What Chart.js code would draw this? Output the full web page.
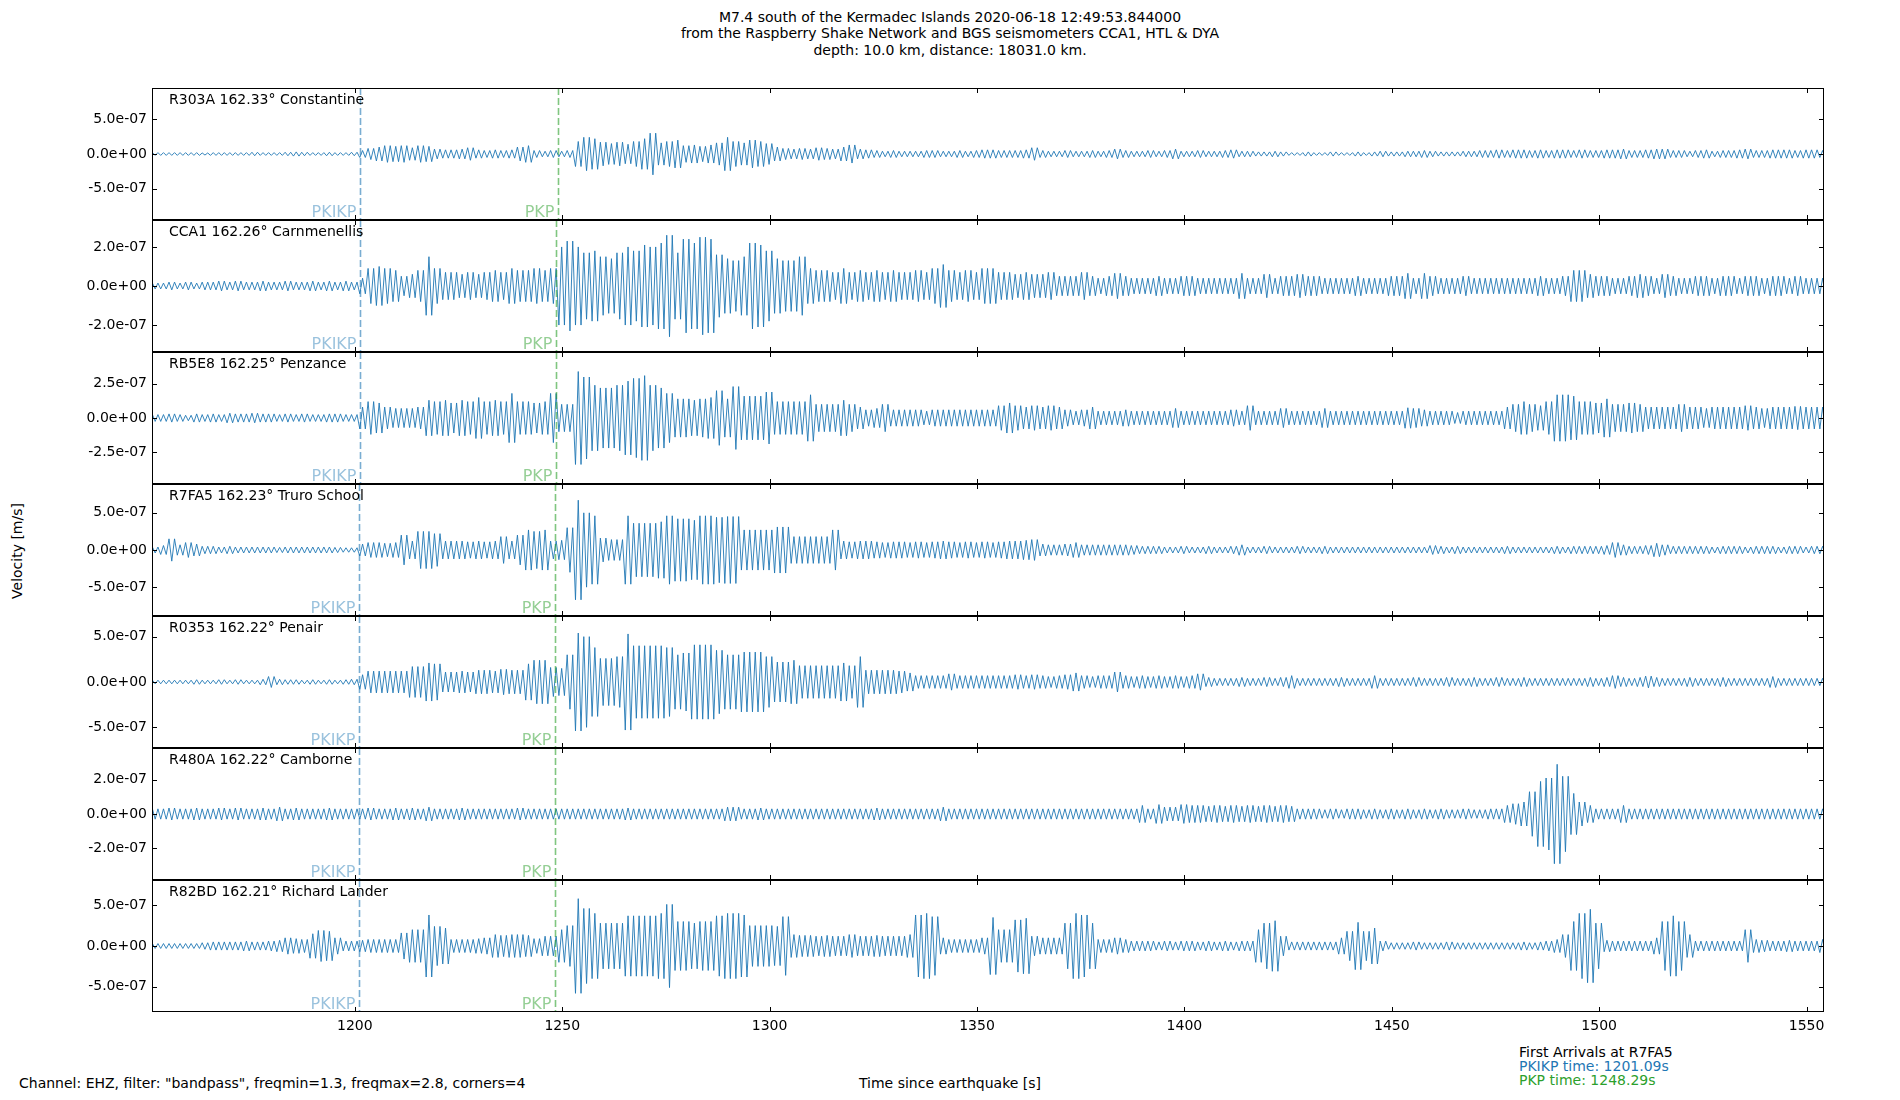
<!DOCTYPE html>
<html>
<head>
<meta charset="utf-8">
<title>M7.4 south of the Kermadec Islands - PKIKP / PKP arrivals</title>
<script src="https://cdn.jsdelivr.net/npm/chart.js@4.4.1/dist/chart.umd.min.js"></script>
<style>
  body { margin: 0; background: #fff; }
  #fig { position: relative; width: 1900px; height: 1100px; overflow: hidden;
         font-family: "DejaVu Sans", sans-serif; color: #000; background: #fff; }
  .txt { position: absolute; white-space: nowrap; font-size: 14px; line-height: 16px; }
  #fig canvas { position: absolute; left: 0; }
</style>
</head>
<body>
<div id="fig">
  <div class="txt" style="left:0; width:1900px; top:9px; text-align:center; line-height:16.4px;">
    M7.4 south of the Kermadec Islands 2020-06-18 12:49:53.844000<br>
    from the Raspberry Shake Network and BGS seismometers CCA1, HTL &amp; DYA<br>
    depth: 10.0 km, distance: 18031.0 km.
  </div>
  <div class="txt" style="left:17px; top:551px; transform:translate(-50%,-50%) rotate(-90deg);">Velocity [m/s]</div>
  <div class="txt" style="left:19px; top:1075px;">Channel: EHZ, filter: "bandpass", freqmin=1.3, freqmax=2.8, corners=4</div>
  <div class="txt" style="left:0; width:1900px; top:1075px; text-align:center;">Time since earthquake [s]</div>
  <div class="txt" style="left:1519px; top:1045px; line-height:14px;">
    First Arrivals at R7FA5<br>
    <span style="color:#1f77b4">PKIKP time: 1201.09s</span><br>
    <span style="color:#2ca02c">PKP time: 1248.29s</span>
  </div>
</div>
<script>
// Peak trace amplitude in each 2 s window, in units of 1e-8 m/s,
// windows centred on 1152, 1154, ... 1554 s (one row = 20 s).
const r303a = [
  2,2,2,2,2,2,1.5,2,2,2,            // 1152
  2,2,2.5,2,2,2,2.5,3,2.5,2,        // 1172
  2,2.5,2,2,2.5,5,8,10,12,11,       // 1192
  12,9,12,11,7,6,6,7,9,6,           // 1212
  5,6,5,6,10,12,5,4,5,4,            // 1232
  5,18,24,22,17,15,17,14,18,22,     // 1252
  30,16,18,20,12,13,11,13,16,24,    // 1272
  18,16,20,18,15,10,8,7,8,7,        // 1292
  9,8,7,10,13,7,6,5,4,5,            // 1312
  4,4,4,5,5,4,4,5,4,5,              // 1332
  6,6,5,5,5,6,9,5,4,4,              // 1352
  5,4,4,5,4,5,7,5,4,4,              // 1372
  5,4,5,7,4,4,5,4,4,5,              // 1392
  6,4,4,3,3,4,3,2,2,3,              // 1412
  2,2,3,2,2,3,2,3,4,3,              // 1432
  3,4,4,5,4,3,3,3,4,4,              // 1452
  5,5,6,5,6,6,5,6,5,6,              // 1472
  6,5,6,5,5,6,6,7,5,5,              // 1492
  6,7,7,5,5,4,5,6,4,5,              // 1512
  5,6,7,5,5,6,6,6,5,6,              // 1532
  6,5                               // 1552
];
const cca1 = [
  1.5,1.5,2,1.5,2,1.5,2,2,2.5,2,
  2.5,2,2,2.5,2,2,2.5,2,2,2.5,
  2,2.5,2,2.5,2,4,9,10,9,8,
  5,6,8,15,9,7,7,6,7,6,
  7,8,7,9,8,8,9,8,9,20,
  23,20,17,18,15,14,17,20,18,21,
  20,22,26,17,24,22,25,24,16,14,
  13,15,22,21,18,14,13,13,15,9,
  8,8,7,9,7,8,7,8,7,8,
  7,7,8,7,9,11,8,7,8,7,
  9,9,7,7,6,7,6,6,7,5,
  5,5,7,5,4,5,6.5,5,4,4,
  4,5,4,4,5,5,4,4,4,4,
  4,6.5,4,4,6,4,5,5,6,5,
  5,4,4,4,4,5,4,4,4,5,
  5,6.5,4,6.5,5,4,4,4,5,4,
  4,4,4,4,4,4,4,5,4,4,
  5,8,8,6,5,5,4,4,5,6,
  5,4,6,5,4,4,5,5,4,5,
  5,4,5,5,4,5,5,4,5,4,
  4,4
];
const rb5e8 = [
  2.5,2.5,3,2.5,2,3,2.5,3,2.5,3.5,
  3,3,3.5,3,3,2.5,3,2.5,3,2.5,
  2.5,3,3,2.5,2.5,8,12,11,8,7,
  7,7,8,13,12,13,11,13,12,15,
  12,13,12,18,12,12,11,12,18,10,
  10,34,30,24,22,22,24,27,29,31,
  24,22,18,14,14,13,14,15,20,14,
  23,16,16,16,19,12,12,12,12,17,
  10,10,10,13,10,8,6,7,10,6,
  6,6,6,5,6,6,6,6,6,6,
  6,6,9,11,9,8,9,8,9,8,
  6,5,6,8,5,5,5,6,5,5,
  5,5,5,7,5,5,5,5,5,5,
  6,5,9,5,5,5,7,5,5,5,
  5,7,5,5,5,5,5,5,5,5,
  5,7.5,7,6,5,5,5,4,5,5,
  5,5,5,8,10,12,10,9,12,17,
  17,16,12,12,11,14,10,10,11,10,
  8,8,8,8,10,8,8,7,8,8,
  8,8,9,8,7,8,8,8,8.5,8,
  8,8
];
const r7fa5 = [
  4,6,15,7,10,8,5,5,4,5,
  4,4,4,4,4,3.5,4,4,4,4,
  4,4,3.5,3,3,8,10,10,9,10,
  20,12,25,25,22,12,12,12,11,12,
  11,12,18,12,20,27,25,27,12,13,
  30,67,50,46,16,14,14,46,36,36,
  36,38,46,42,42,40,46,46,44,45,
  45,27,27,27,27,31,31,18,18,18,
  18,18,27,12,11,12,12,11,10,11,
  11,10,11,10,11,12,11,10,11,10,
  11,10,11,12,12,13,14,8,7,7,
  8,10,7,7,7,7,7,7,6,5,
  5,5,4,4,5,4,4,5,4,4,
  5,7,4,4,5,4,4,4,5,4,
  4,5,4,4,4,4,4,4,4,4,
  4,4,4,4,6,5,4,5,4,4,
  4,4,4,5,4,4,4,4,4,5,
  4,5,5,5,5,6,10,7,5,5,
  6,9,7,5,5,5,5,5,4,5,
  5,5,4,5,5,5,4,5,5,4,
  5,5
];
const r0353 = [
  2,2,2,2,2,2.5,2,2,2.5,2,
  2.5,2,2,3,6,3,2.5,2.5,2,2.5,
  2,2.5,2,2.5,3,8,12,12,12,12,
  12,17,17,21,20,11,11,12,11,13,
  13,12,14,13,13,20,24,24,16,15,
  30,54,50,38,26,26,28,53,40,40,
  40,40,38,30,32,41,41,41,35,30,
  30,33,33,33,28,22,22,24,18,18,
  18,18,18,21,18,28,13,13,13,13,
  12,10,7,7,7,7,9,7,7,7,
  7,7,7,7,8,7,8,7,6,7,
  8,10,7,6,7,7,11,7,6,7,
  6,7,6,7,6,7,9,5,4,4,
  4,5,4,4,5,4,5,7,4,4,
  4,4,4,5,4,4,4,7,4,4,
  4,4,5,4,4,4,5,4,4,5,
  4,4,5,4,4,5,4,4,4,4,
  4,4,4,5,4,5,7,5,4,5,
  6.5,5,4,4,4,5,4,4,4,5,
  4,4,4,4,4,6,4,4,4,4,
  4,4
];
const r480a = [
  3,3,3.5,3,3,3.5,3,3,3.5,3,
  3.5,3,3,3.5,3,4,3,3.5,3,3,
  3,3.5,3,3,3,3,3.5,3,3,3.5,
  3,3.5,3,4,3,3,3,3.5,3,3,
  3,3,3,3,3.5,3,3,3,3,3,
  3,3,3,3,3,3,3,3.5,3,3,
  3,3,3,3,3,3,3,3,3,4,
  4,3,3,3.5,3,3,3,3,3,3,
  3,3,3,3,3,3,3,3.5,3,3,
  3,3,3,3,3,4,3,3,3,3,
  3,3,3,3,3,3,3,3,3,3,
  3,3,3,3,3,3,3,3,3,5,
  3,5.5,4,4,5.5,5,5,4.5,5,4.5,
  5,4.5,5,4.5,5,4.5,5,4.5,3,3,
  3,2.5,3,2.5,3,3,2.5,3,2.5,3,
  2.5,3,2.5,3,2.5,3,2.5,2.5,3,2.5,
  2.5,3,3,5,6,7,13,19,21,29,
  22,12,7,5,3,3,3,5,3,3,
  3,3,3,3,3,3,3,3,3,3,
  3,3,3,3,3,3,3,3,3,3,
  3,3
];
const r82bd = [
  3,3,3,3,3,3,4,5,5,5,
  5,6,5,5,6,7,10,9,8,15,
  19,18,10,6,6,7,8,8,8,8,
  16,20,20,38,24,22,8,8,8,9,
  10,14,13,14,14,13,9,12,12,20,
  25,58,46,40,28,28,28,37,37,37,
  37,40,51,30,30,28,30,30,37,40,
  40,38,25,25,25,24,36,14,13,13,
  12,13,12,12,14,12,12,13,12,12,
  12,14,38,40,36,10,8,8,8,8,
  10,35,20,20,32,34,12,10,10,10,
  28,40,38,28,8,8,10,8,6,6,
  6,5,6,5,6,6,5,6,5,6,
  5,6,6,20,28,31,12,5,5,5,
  5,5,5,10,18,29,18,22,6,4,
  4,4,5,4,4,4,5,4,4,4,
  4,4,4,4,4,5,4,5,6,8,
  14,30,40,45,28,7,6,6,6,6,
  6,10,30,37,30,14,6,6,6,6,
  6,6,20,8,7,6,6,7,6,6,
  6,8
];

const stationCodes = ['R303A', 'CCA1', 'RB5E8', 'R7FA5', 'R0353', 'R480A', 'R82BD'];
const stationDist  = [162.33, 162.26, 162.25, 162.23, 162.22, 162.22, 162.21];
const stationNames = ['Constantine', 'Carnmenellis', 'Penzance', 'Truro School', 'Penair', 'Camborne', 'Richard Lander'];
const traces = [r303a, cca1, rb5e8, r7fa5, r0353, r480a, r82bd];
const pkikpTimes = [1201.3, 1201.15, 1201.13, 1201.09, 1201.07, 1201.07, 1201.05];
const pkpTimes   = [1248.9, 1248.5, 1248.45, 1248.29, 1248.25, 1248.25, 1248.2];
const yLimits = [95, 33.8, 48.3, 88.8, 72.8, 38.5, 80.9];   // symmetric, 1e-8 m/s
const yTickSets = [[-50, 0, 50], [-20, 0, 20], [-25, 0, 25], [-50, 0, 50], [-50, 0, 50], [-20, 0, 20], [-50, 0, 50]];
const xTicks = [1200, 1250, 1300, 1350, 1400, 1450, 1500, 1550];

const binStart = 1151.2;
const binStep = 2;
const swingsPerBin = 3;   // strokes drawn for each window
const xMin = 1151.1, xMax = 1554.2;

const panelTop = 88, panelHeight = 132;
const traceColor = '#1f77b4';
const font = { family: "'DejaVu Sans', sans-serif", size: 14 };

Chart.defaults.font.family = font.family;

// min/max rendering of each window: strokes swinging between +peak and -peak
function tracePoints(peaks) {
    const pts = [];
    let n = 0;
    peaks.forEach((a, i) => {
        const t = binStart + i * binStep;
        for (let k = 0; k < swingsPerBin; k++, n++) {
            pts.push({ x: t + k * binStep / swingsPerBin, y: n % 2 ? -a : a });
        }
    });
    return pts;
}

function sciLabel(v) {
    return (v * 1e-8).toExponential(1).replace(/e([+-])(\d)$/, 'e$10$2');
}

const panelDecor = {
    id: 'panelDecor',
    afterDatasetsDraw(chart, args, opts) {
        const { ctx, chartArea: a, scales: { x, y } } = chart;
        ctx.save();

        // arrival markers
        opts.arrivals.forEach(ph => {
            const px = Math.round(x.getPixelForValue(ph.time)) + 0.5;
            ctx.strokeStyle = ph.line;
            ctx.lineWidth = 1.6;
            ctx.setLineDash([7, 3]);
            ctx.beginPath();
            ctx.moveTo(px, a.top);
            ctx.lineTo(px, a.bottom);
            ctx.stroke();
            ctx.setLineDash([]);
            ctx.fillStyle = ph.text;
            ctx.font = "16px 'DejaVu Sans'";
            ctx.textAlign = 'right';
            ctx.textBaseline = 'alphabetic';
            ctx.fillText(ph.name, px - 4, a.bottom - 3);
        });

        // station label
        ctx.fillStyle = '#000';
        ctx.font = "14px 'DejaVu Sans'";
        ctx.textAlign = 'left';
        ctx.fillText(opts.label, a.left + 17, a.top + 16);

        // frame
        ctx.strokeStyle = '#000';
        ctx.lineWidth = 1;
        ctx.strokeRect(a.left + 0.5, a.top + 0.5, a.width - 1, a.height - 1);

        // inward ticks on all four sides
        ctx.beginPath();
        xTicks.forEach(v => {
            const px = Math.round(x.getPixelForValue(v)) + 0.5;
            ctx.moveTo(px, a.top); ctx.lineTo(px, a.top + 5);
            ctx.moveTo(px, a.bottom); ctx.lineTo(px, a.bottom - 5);
        });
        opts.yTicks.forEach(v => {
            const py = Math.round(y.getPixelForValue(v)) + 0.5;
            ctx.moveTo(a.left, py); ctx.lineTo(a.left + 5, py);
            ctx.moveTo(a.right, py); ctx.lineTo(a.right - 5, py);
        });
        ctx.stroke();
        ctx.restore();
    }
};

const fig = document.getElementById('fig');

traces.forEach((peaks, i) => {
    const isLast = i === traces.length - 1;
    const canvas = document.createElement('canvas');
    canvas.width = 1900;
    canvas.height = panelHeight + (isLast ? 40 : 0);
    canvas.style.top = (panelTop + i * panelHeight) + 'px';
    fig.appendChild(canvas);

    new Chart(canvas.getContext('2d'), {
        type: 'line',
        data: {
            datasets: [{
                data: tracePoints(peaks),
                borderColor: traceColor,
                borderWidth: 0.9,
                pointRadius: 0,
                tension: 0
            }]
        },
        options: {
            animation: false,
            responsive: false,
            devicePixelRatio: 1,
            parsing: false,
            events: [],
            layout: { padding: { left: 0, right: 76, top: 0, bottom: 0 } },
            plugins: {
                legend: { display: false },
                tooltip: { enabled: false },
                panelDecor: {
                    label: `${stationCodes[i]} ${stationDist[i].toFixed(2)}° ${stationNames[i]}`,
                    yTicks: yTickSets[i],
                    arrivals: [
                        { name: 'PKIKP', time: pkikpTimes[i], line: 'rgba(31,119,180,0.6)', text: 'rgba(31,119,180,0.45)' },
                        { name: 'PKP', time: pkpTimes[i], line: 'rgba(44,160,44,0.6)', text: 'rgba(44,160,44,0.5)' }
                    ]
                }
            },
            scales: {
                x: {
                    type: 'linear',
                    min: xMin,
                    max: xMax,
                    grid: { display: false, drawTicks: false },
                    border: { display: false },
                    ticks: { display: isLast, padding: 6, font, color: '#000', callback: v => String(v) },
                    afterBuildTicks: s => { s.ticks = xTicks.map(v => ({ value: v })); },
                    afterFit: s => { s.height = isLast ? 40 : 0; s.paddingLeft = 0; s.paddingRight = 0; }
                },
                y: {
                    min: -yLimits[i],
                    max: yLimits[i],
                    grid: { display: false, drawTicks: false },
                    border: { display: false },
                    ticks: { padding: 5, font, color: '#000', callback: v => sciLabel(v) },
                    afterBuildTicks: s => { s.ticks = yTickSets[i].map(v => ({ value: v })); },
                    afterFit: s => { s.width = 152; s.paddingTop = 0; s.paddingBottom = 0; }
                }
            }
        },
        plugins: [panelDecor]
    });
});
</script>
</body>
</html>
